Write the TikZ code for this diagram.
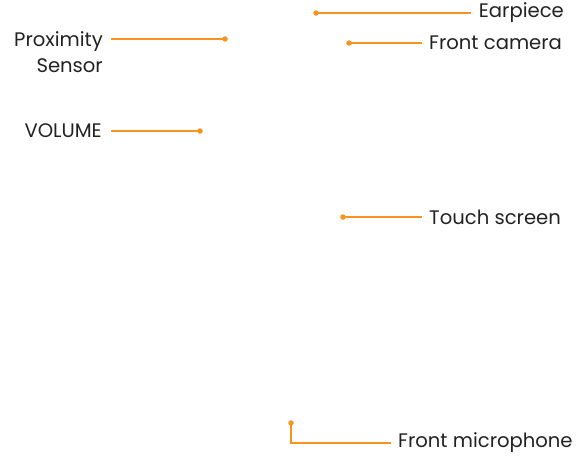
\documentclass[tikz,border=0pt]{standalone}
\usepackage{fontspec}
\setmainfont{Poppins}
\usetikzlibrary{calc}
\definecolor{callout}{HTML}{F7941D}
\definecolor{ink}{HTML}{222222}
\begin{document}
\begin{tikzpicture}[x=1pt,y=-1pt]
			\tikzstyle{lbl}=[text=ink,font=\fontsize{19.6}{25.5}\selectfont,inner sep=0pt];
			\tikzstyle{lead}=[draw=callout,line width=1.1pt];
			\tikzstyle{pin}=[fill=callout,circle,inner sep=0pt,minimum size=5.5pt];
			\useasboundingbox(0,0)rectangle(577,455);
			\node[lbl,anchor=east](ear)at(564,13){Earpiece};
			\node[lbl,anchor=west](cam)at(429,43){Front camera};
			\node[lbl,anchor=east,align=right](prox)at(103,52){Proximity\\Sensor};
			\node[lbl,anchor=east](vol)at(102,131){VOLUME};
			\node[lbl,anchor=west](touch)at(429,217){Touch screen};
			\node[lbl,anchor=west](mic)at(398,443){Front microphone};
			\node[pin](ear-p)at(316,13){};
			\node[pin](cam-p)at(349,43){};
			\node[pin](prox-p)at(225,39){};
			\node[pin](vol-p)at(200,131){};
			\node[pin](touch-p)at(343,217){};
			\node[pin](mic-p)at(291,423){};
			\draw[lead]($(ear.west)+(-8,0)$)--(ear-p.center);
			\draw[lead]($(cam.west)+(-7,0)$)--(cam-p.center);
			\draw[lead](111,39)--(prox-p.center);
			\draw[lead]($(vol.east)+(9,0)$)--(vol-p.center);
			\draw[lead]($(touch.west)+(-7,0)$)--(touch-p.center);
			\draw[lead]($(mic.west)+(-7,0)$)-|(mic-p.center);
		\end{tikzpicture}
\end{document}
